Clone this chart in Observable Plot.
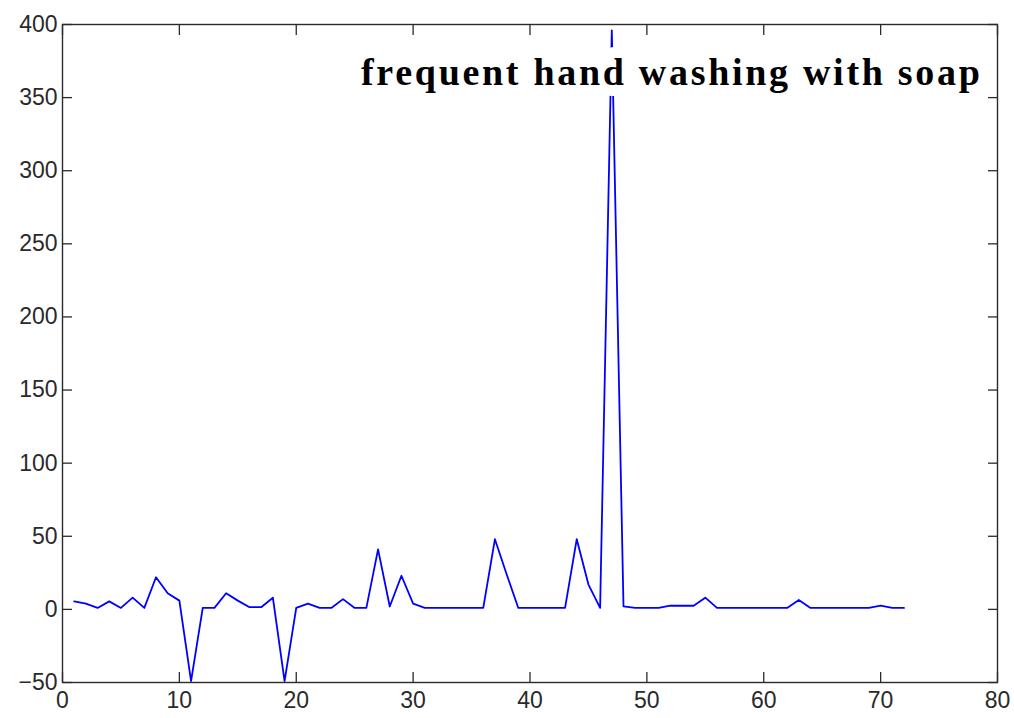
<!DOCTYPE html>
<html>
<head>
<meta charset="utf-8">
<script src="https://cdn.jsdelivr.net/npm/d3@7"></script>
<script src="https://cdn.jsdelivr.net/npm/@observablehq/plot@0.6"></script>
<style>
  html, body { margin: 0; padding: 0; background: #fff; }
  #chart { width: 1014px; height: 718px; }
</style>
</head>
<body>
<div id="chart"></div>
<script>
// Weekly change series (index 1..72)
const values = [
  5.5, 4, 1, 5.5, 1, 8, 1, 22, 11, 6,
  -49, 1, 1, 11, 6, 1.5, 1.5, 8, -49, 1,
  4, 1, 1, 7, 1, 1, 41, 2, 23, 4,
  1, 1, 1, 1, 1, 1, 48, 24, 1, 1,
  1, 1, 1, 48, 17, 1, 396, 2, 1, 1,
  1, 2.5, 2.5, 2.5, 8, 1, 1, 1, 1, 1,
  1, 1, 6.5, 1, 1, 1, 1, 1, 1, 2.5,
  1, 1
];
const index = values.map((_, i) => i + 1);

const xTicks = [0, 10, 20, 30, 40, 50, 60, 70, 80];
const yTicks = [-50, 0, 50, 100, 150, 200, 250, 300, 350, 400];
const headline = ["frequent hand washing with soap"];

const series = index.map((x, i) => ({x, y: values[i]}));

const ink = "#2a2a2a";

const chart = Plot.plot({
  width: 1014,
  height: 718,
  marginLeft: 62,
  marginRight: 17,
  marginTop: 24,
  marginBottom: 36,
  style: {fontFamily: "Liberation Sans, Arial, sans-serif", fontSize: "23px", color: ink, background: "#fff"},
  x: {domain: [0, 80]},
  y: {domain: [-50, 400]},
  marks: [
    Plot.line(series, {x: "x", y: "y", stroke: "#0000ff", strokeWidth: 1.8}),
    // inward ticks on all four sides, labels on bottom and left
    Plot.axisX(xTicks, {anchor: "bottom", tickSize: -10, tickPadding: 19, label: null, strokeWidth: 1.3}),
    Plot.axisX(xTicks, {anchor: "top", tickSize: -10, tickFormat: () => "", label: null, strokeWidth: 1.3}),
    Plot.axisY(yTicks, {anchor: "left", tickSize: -10, tickPadding: 15, label: null, strokeWidth: 1.3}),
    Plot.axisY(yTicks, {anchor: "right", tickSize: -10, tickFormat: () => "", label: null, strokeWidth: 1.3}),
    Plot.frame({stroke: ink, strokeWidth: 1.4}),
    Plot.text(headline, {
      text: d => d,
      frameAnchor: "top-right",
      textAnchor: "end",
      lineAnchor: "bottom",
      dx: -15,
      dy: 60,
      fontFamily: "Liberation Serif, Times New Roman, serif",
      fontWeight: "bold",
      fontSize: 38,
      fill: "#000",
      stroke: "#fff",
      strokeWidth: 22,
      paintOrder: "stroke"
    })
  ]
});

// widen the tracking of the headline
chart.querySelectorAll("text").forEach(t => {
  if (t.textContent === headline[0]) t.style.letterSpacing = "2.7px";
});

document.getElementById("chart").appendChild(chart);
</script>
</body>
</html>
